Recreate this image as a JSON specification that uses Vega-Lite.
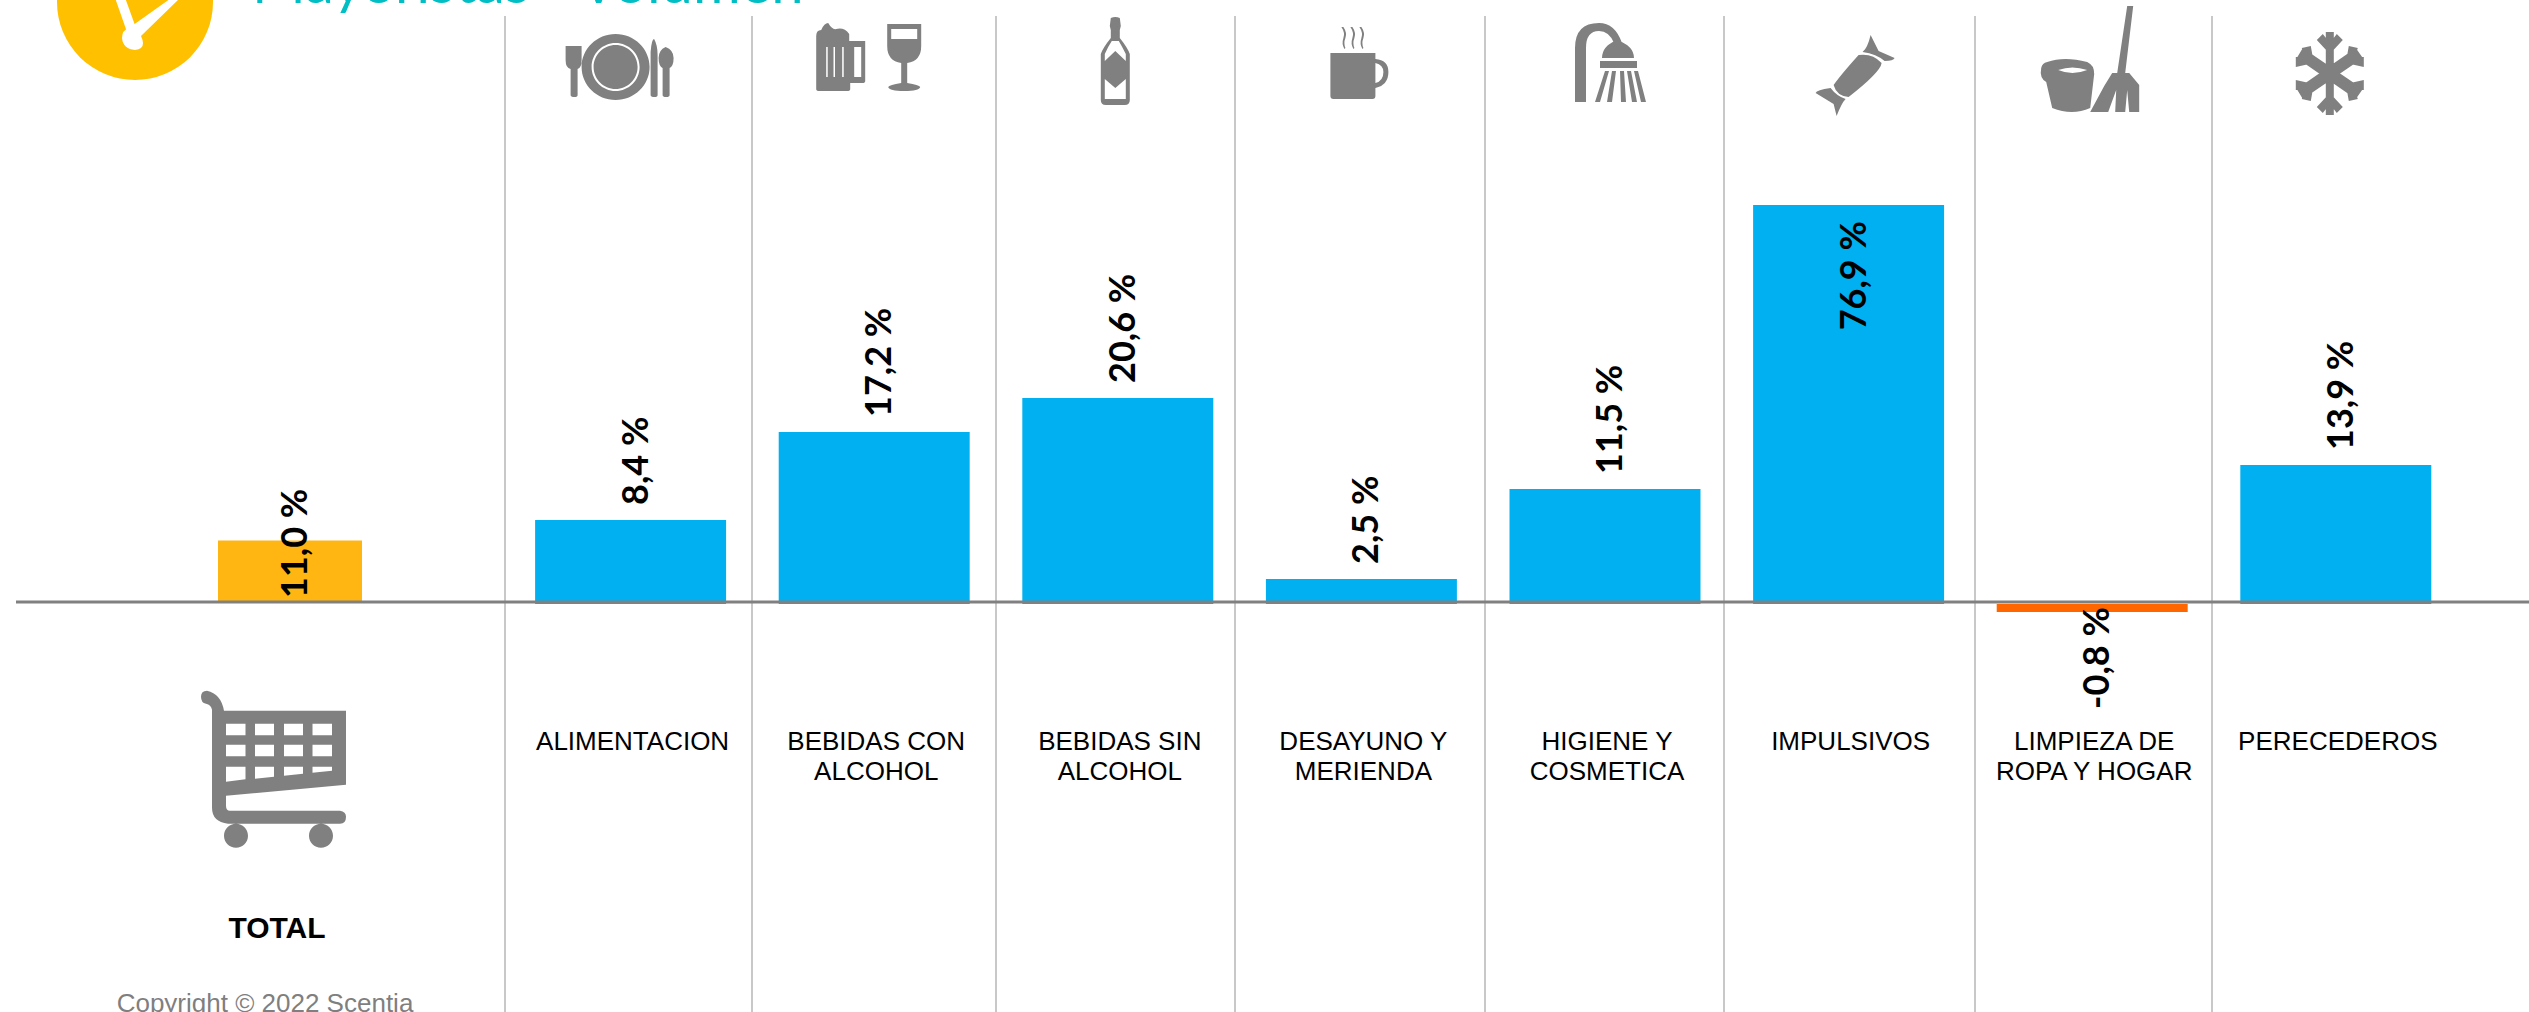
{
"$schema":"https://vega.github.io/schema/vega-lite/v6.json",
"width":2529,"height":1012,
"autosize":"none",
"padding":0,
"background":"#ffffff",
"config":{"view":{"stroke":null},"axis":{"disable":true}},
"datasets":{
 "cats":[
  {"cat":"ALIMENTACION","value":8.4,"label":"8,4 %"},
  {"cat":"BEBIDAS CON\nALCOHOL","value":17.2,"label":"17,2 %"},
  {"cat":"BEBIDAS SIN\nALCOHOL","value":20.6,"label":"20,6 %"},
  {"cat":"DESAYUNO Y\nMERIENDA","value":2.5,"label":"2,5 %"},
  {"cat":"HIGIENE Y\nCOSMETICA","value":11.5,"label":"11,5 %"},
  {"cat":"IMPULSIVOS","value":76.9,"label":"76,9 %"},
  {"cat":"LIMPIEZA DE\nROPA Y HOGAR","value":-0.8,"label":"-0,8 %"},
  {"cat":"PERECEDEROS","value":13.9,"label":"13,9 %"}
 ],
 "total":[{"cat":"TOTAL","value":11.0,"label":"11,0 %","note":"Copyright © 2022 Scentia"}],
 "seps":[{"sep":0},{"sep":1},{"sep":2},{"sep":3},{"sep":4},{"sep":5},{"sep":6},{"sep":7}]
},
"resolve":{"scale":{"x":"independent","y":"independent","shape":"independent"}},
"layer":[
 {"data":{"name":"seps"},
  "mark":{"type":"rule","color":"#c8c8c8","strokeWidth":2},
  "encoding":{
   "x":{"field":"sep","type":"quantitative","axis":null,"scale":{"domain":[0,1,2,3,4,5,6,7],"range":[505,752,996,1235,1485,1724,1975,2212]}},
   "y":{"datum":0,"axis":null,"scale":{"domain":[0,1],"range":[1012,16],"nice":false}},
   "y2":{"datum":1}
  }},
 {"data":{"name":"total"},
  "encoding":{
   "x":{"field":"cat","type":"nominal","axis":null,"scale":{"domain":["TOTAL"],"range":[218,362],"paddingInner":0,"paddingOuter":0}}
  },
  "layer":[
   {"mark":{"type":"bar","color":"#FFB612"},
    "encoding":{"y":{"field":"value","type":"quantitative","axis":null,"scale":{"domain":[0,11],"range":[602,540.5],"nice":false}}}},
   {"mark":{"type":"text","font":"Lato","fontWeight":"bold","fontSize":36,"angle":-90,"align":"left","baseline":"alphabetic","dx":4,"dy":17,"color":"#000000"},
    "encoding":{"y":{"datum":0},"text":{"field":"label"}}},
   {"mark":{"type":"point","filled":true,"fill":"#808080","stroke":null,"opacity":1,"size":4},
    "encoding":{"y":{"datum":-30},"shape":{"value":"M-89 -73 Q-89 -79 -83 -79 Q-69 -76 -66 -59 H56 V15 L-64 26 V36 Q-64 41 -60 41 H50 Q56 42 56 47 Q56 54 50 54 H-62 Q-78 52 -78 38 V-60 Q-79 -65 -84 -66 Q-89 -67 -89 -73 Z M-64 -46 V-34.5 H-44.5 V-46 Z M-35 -46 V-34.5 H-16 V-46 Z M-6 -46 V-34.5 H13 V-46 Z M22.5 -46 V-34.5 H42 V-46 Z M-64 -25 V-13.5 H-44.5 V-25 Z M-35 -25 V-13.5 H-16 V-25 Z M-6 -25 V-13.5 H13 V-25 Z M22.5 -25 V-13.5 H42 V-25 Z M-64 -3 V12 L-44.5 9.5 V-3 Z M-35 -3 V9 L-16 7 V-3 Z M-6 -3 V6 L13 4 V-3 Z M22.5 -3 V3 L42 1 V-3 Z M-66 66 A12 12 0 1 1 -42 66 A12 12 0 1 1 -66 66 Z M19 66 A12 12 0 1 1 43 66 A12 12 0 1 1 19 66 Z"}}},
   {"mark":{"type":"text","font":"Liberation Sans","fontWeight":"bold","fontSize":30,"align":"center","baseline":"alphabetic","dx":-13,"color":"#000000"},
    "encoding":{"y":{"datum":-60.1},"text":{"field":"cat"}}},
   {"mark":{"type":"text","font":"Liberation Sans","fontSize":26,"align":"center","baseline":"alphabetic","dx":-25,"color":"#7f7f7f"},
    "encoding":{"y":{"datum":-73.4},"text":{"field":"note"}}}
  ]},
 {"data":{"name":"cats"},
  "encoding":{
   "x":{"field":"cat","type":"nominal","axis":null,"sort":null,
    "scale":{"domain":["ALIMENTACION","BEBIDAS CON\nALCOHOL","BEBIDAS SIN\nALCOHOL","DESAYUNO Y\nMERIENDA","HIGIENE Y\nCOSMETICA","IMPULSIVOS","LIMPIEZA DE\nROPA Y HOGAR","PERECEDEROS"],"range":[508.8,2457.6],"paddingInner":0.216,"paddingOuter":0.108}}
  },
  "layer":[
   {"mark":{"type":"bar"},
    "encoding":{
     "y":{"field":"value","type":"quantitative","axis":null,"scale":{"domain":[-40.8,39.9],"range":[1012,205],"clamp":true,"nice":false}},
     "color":{"condition":{"test":"datum.value<0","value":"#FF6600"},"value":"#00B0F0"}
    }},
   {"transform":[{"filter":"datum.value>=0 && datum.value<40"}],
    "mark":{"type":"text","font":"Lato","fontWeight":"bold","fontSize":36,"angle":-90,"align":"left","baseline":"alphabetic","dx":15,"dy":17,"color":"#000000"},
    "encoding":{"y":{"field":"value","type":"quantitative"},"text":{"field":"label"}}},
   {"transform":[{"filter":"datum.value>=40"}],
    "mark":{"type":"text","font":"Lato","fontWeight":"bold","fontSize":36,"angle":-90,"align":"right","baseline":"alphabetic","dx":-16,"dy":17,"color":"#000000"},
    "encoding":{"y":{"field":"value","type":"quantitative"},"text":{"field":"label"}}},
   {"transform":[{"filter":"datum.value<0"}],
    "mark":{"type":"text","font":"Lato","fontWeight":"bold","fontSize":36,"angle":-90,"align":"right","baseline":"alphabetic","dx":5,"dy":17,"color":"#000000"},
    "encoding":{"y":{"field":"value","type":"quantitative"},"text":{"field":"label"}}},
   {"mark":{"type":"text","font":"Liberation Sans","fontSize":26,"align":"center","baseline":"alphabetic","lineBreak":"\n","lineHeight":29.5,"dx":2,"color":"#000000"},
    "encoding":{"y":{"datum":-14.6},"text":{"field":"cat"}}}
  ]},
 {"data":{"name":"cats"},
  "mark":{"type":"point","filled":true,"fill":"#808080","stroke":null,"opacity":1,"size":4},
  "encoding":{
   "x":{"field":"cat","type":"nominal","axis":null,"sort":null,
    "scale":{"domain":["ALIMENTACION","BEBIDAS CON\nALCOHOL","BEBIDAS SIN\nALCOHOL","DESAYUNO Y\nMERIENDA","HIGIENE Y\nCOSMETICA","IMPULSIVOS","LIMPIEZA DE\nROPA Y HOGAR","PERECEDEROS"],"range":[508.8,2457.6],"paddingInner":0.216,"paddingOuter":0.108}},
   "y":{"datum":60,"axis":null,"scale":{"domain":[0,1012],"range":[0,1012],"nice":false}},
   "shape":{"field":"cat","legend":null,"scale":{"domain":["ALIMENTACION","BEBIDAS CON\nALCOHOL","BEBIDAS SIN\nALCOHOL","DESAYUNO Y\nMERIENDA","HIGIENE Y\nCOSMETICA","IMPULSIVOS","LIMPIEZA DE\nROPA Y HOGAR","PERECEDEROS"],
   "range":[
    "M-65 -14 H-49 V0 Q-49 8 -53 9 V35 Q-53 37 -56 37 Q-60 37 -60 35 V9 Q-65 8 -65 0 Z M-49 7 A34 33 0 1 1 19 7 A34 33 0 1 1 -49 7 Z M-39 7 A24 24 0 1 0 9 7 A24 24 0 1 0 -39 7 Z M-37 7 A22 22 0 1 1 7 7 A22 22 0 1 1 -37 7 Z M20 -8 Q21 -21 23.5 -21 Q27 -15 27 -5 V35 Q27 37 24 37 Q20 37 20 35 Z M35 -13 Q43 -10 43 -2 Q43 6 39 8 V35 Q39 37 35.5 37 Q32 37 32 35 V8 Q28 6 28 -2 Q28 -10 35 -13 Z",
    "M-58 -24 Q-58 -30 -53 -30 Q-50 -37 -46 -37 Q-42 -30 -38 -31 Q-30 -33 -25 -26 V-19 H-9 V21 Q-9 23 -12 23 H-24 V29 Q-24 31 -27 31 H-55 Q-58 31 -58 29 Z M-20 -13 V17 H-13 V-13 Z M-48 -13 V17 H-46.5 V-13 Z M-40.7 -13 V17 H-39.2 V-13 Z M-32 -13 V17 H-30.5 V-13 Z M13 -36 H47 V-14 Q47 1 33 3 V23 Q45 25 46 27 Q45 31 30 31 Q15 31 14 27 Q15 25 27 23 V3 Q13 1 13 -14 Z M17 -31 V-21 H43 V-31 Z",
    "M-7 -42 Q-2.5 -44 2 -42 L3 -34 L2 -30 V-22 Q10 -12 12 -6 V40 Q12 45 7 45 H-12 Q-17 45 -17 40 V-6 Q-15 -12 -7 -22 V-30 L-8 -34 Z M-13 -6 V39 H8 V-6 Q4 -14 1 -19 H-6 Q-10 -13 -13 -6 Z M-13 1 L-2.5 -9 L8 1 V19 L-2.5 28 L-13 19 Z",
    "M-31 -7 H14 V-1 Q27 0 27 12 Q27 25 14 28 V36 Q14 39 11 39 H-28 Q-31 39 -31 36 Z M14 3 V23 Q22 21 22 12 Q22 5 14 3 Z M-20 -33 Q-16 -27 -18 -22 Q-20 -16 -17 -11 L-16 -12 Q-18 -17 -16 -22 Q-14 -27 -18 -33 Z M-11 -33 Q-7 -27 -9 -22 Q-11 -16 -8 -11 L-7 -12 Q-9 -17 -7 -22 Q-5 -27 -9 -33 Z M-2 -33 Q2 -27 0 -22 Q-2 -16 1 -11 L2 -12 Q0 -17 2 -22 Q4 -27 0 -33 Z",
    "M-30 42 V-12 Q-30 -37 -6 -37 Q10 -37 17 -17 H9 Q4 -29 -6 -29 Q-19 -29 -19 -12 V42 Z M-3 -2 Q-3 -14 12 -20 Q29 -14 29 -2 Z M-5 1 H32 V8 H-5 Z M0 11 H4 L-5 42 H-10 Z M7 11 H11 L7 42 H2 Z M15 11 H19 L21 42 H16 Z M22 11 H26 L32 42 H27 Z M29 11 H33 L41 42 H36 Z",
    "M10 -5 Q24 -7 33 3 Q32 12 0 37 Q-12 36 -15 25 Q-8 15 10 -5 Z M14 -8 Q19 -12 22 -25 L30 -9 L46 -2 Q45 1 36 1 Q28 -6 14 -8 Z M-3 39 Q-7 43 -12 56 L-15 44 L-33 33 Q-32 30 -18 28 Q-12 36 -3 39 Z",
    "M-45 2 Q-28 -4 -5 2 Q2 5 2 14 L-2 48 Q-20 56 -40 48 L-46 22 Q-53 18 -51 8 Q-50 3 -45 2 Z M-34 10 Q-20 16 -5 10 Q-20 5 -34 10 Z M35 -54 H41 L33 13 H25 Z M20 13 H37 L47 25 L47 52 H37 L35 30 L33 52 H23 L24 30 L16 52 H-2 L12 26 Z",
    "M-10 -28 H-2 V55 H-10 Z M20 -12 L27 -2 L-33 39 L-39 29 Z M-39 -2 L-33 -12 L27 29 L20 39 Z M-6 -6 L-19 -20 L-13 -26 L-6 -17 L1 -26 L7 -20 Z M-6 33 L7 47 L1 53 L-6 44 L-13 53 L-19 47 Z M10 3 L13 -14 L22 -12 L19 -3 L28 -3 L28 7 Z M-22 3 L-40 7 L-40 -3 L-31 -3 L-34 -12 L-25 -14 Z M10 24 L28 20 L28 30 L19 30 L22 39 L13 41 Z M-22 24 L-25 41 L-34 39 L-31 30 L-40 30 L-40 20 Z"
   ]}}
  }},
 {"data":{"values":[{"text":"Mayoristas - Volumen"}]},
  "encoding":{
   "x":{"datum":135,"axis":null,"scale":{"domain":[0,2529],"range":[0,2529],"nice":false}},
   "y":{"datum":2,"axis":null,"scale":{"domain":[0,1012],"range":[0,1012],"nice":false}}
  },
  "layer":[
   {"mark":{"type":"point","filled":true,"fill":"#FFC000","stroke":null,"opacity":1,"shape":"circle","size":24336}},
   {"mark":{"type":"point","filled":true,"fill":"#ffffff","stroke":null,"opacity":1,"size":4,"shape":"M-8 30 L-22 -10 L-12 -10 L1 26 Z M-6 26 L39 -6 L44 -3 L6 34 Q12 47 0 48 Q-12 47 -13 36 Q-13 28 -6 26 Z"}},
   {"mark":{"type":"text","font":"Lato","fontSize":58,"align":"left","baseline":"alphabetic","color":"#00BFC4"},
    "encoding":{"x":{"datum":252},"y":{"datum":3},"text":{"field":"text"}}},
   {"mark":{"type":"rule","color":"#808080","strokeWidth":3},
    "encoding":{"x":{"datum":16},"x2":{"datum":2529},"y":{"datum":602}}}
  ]}
]
}
